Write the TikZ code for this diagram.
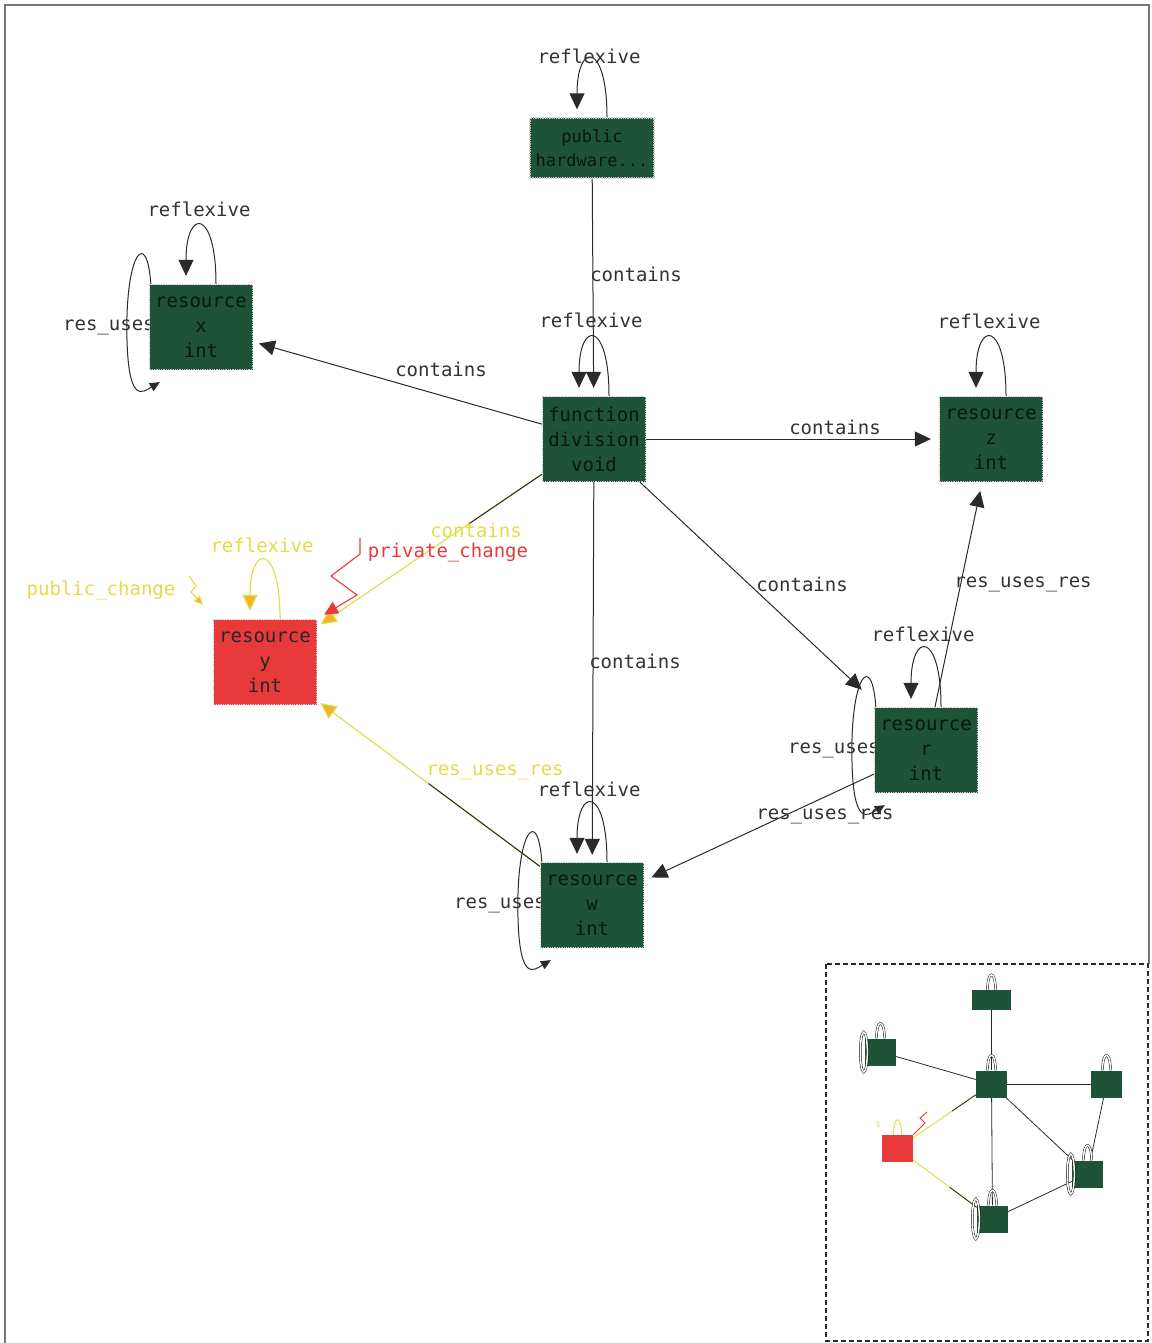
\documentclass[tikz,border=0pt]{standalone}
\usepackage{fontspec}
\usetikzlibrary{arrows.meta,calc,backgrounds}
\newfontfamily\monof{DejaVu Sans Mono}
\definecolor{ngreen}{HTML}{1E5239}
\definecolor{nred}{HTML}{E83A3A}
\definecolor{yelC}{HTML}{E2DC48}
\definecolor{oraC}{HTML}{F0B428}
\definecolor{redC}{HTML}{E83A3A}
\definecolor{edgeC}{HTML}{2A2A2A}
\definecolor{labC}{HTML}{333333}
\definecolor{frameC}{HTML}{777777}
\tikzset{
  gnode/.style={rectangle, fill=ngreen, draw=gray!45, densely dotted, line width=1.3pt,
    minimum width=103pt, minimum height=85pt, inner sep=0pt, align=center,
    text=black!72!ngreen, font={\monof\fontsize{19}{25}\selectfont}},
  bigarr/.style={-{Triangle[length=16pt,width=15pt]}},
  smallarr/.style={-{Triangle[length=10pt,width=9pt]}},
  conn/.style={draw=edgeC, line width=1pt, bigarr},
  yconn/.style={draw=yelC, line width=1.2pt, -{Triangle[length=16pt,width=15pt,fill=oraC]}},
  rconn/.style={draw=redC, line width=1.1pt, -{Triangle[length=14pt,width=13pt,fill=redC]}},
  lbl/.style={font={\monof\fontsize{19}{20}\selectfont}, text=labC, inner sep=0pt},
  ylbl/.style={lbl, text=yelC},
  rlbl/.style={lbl, text=redC},
  mnode/.style={rectangle, fill=ngreen, minimum width=31pt, minimum height=27pt, inner sep=0pt},
  medge/.style={draw=edgeC, line width=0.8pt},
  mloop/.style={draw=black, double=white, line width=0.45pt, double distance=1.5pt},
  framec/.style={draw=frameC, line width=1.5pt}
}
\newcommand\reflexloop[2][conn]{%
  \draw[#1] ([xshift=15pt]#2.north) .. controls ([xshift=15pt,yshift=76pt]#2.north)
    and ([xshift=-15pt,yshift=76pt]#2.north) .. ([xshift=-15pt,yshift=8pt]#2.north);}
\newcommand\resloop[1]{%
  \draw[draw=edgeC, line width=1pt, smallarr] ([xshift=2pt]#1.north west)
    .. controls ([xshift=-2pt,yshift=55pt]#1.north west) and ([xshift=-22pt,yshift=75pt]#1.west)
    .. ([xshift=-22pt]#1.west)
    .. controls ([xshift=-22pt,yshift=-80pt]#1.west) and ([xshift=-6pt,yshift=-22pt]#1.south west)
    .. ([xshift=11pt,yshift=-12pt]#1.south west);}
\newcommand\mtoploop[2][mloop]{%
  \draw[#1] ([xshift=-4pt]#2.north) .. controls ([xshift=-4pt,yshift=20pt]#2.north)
    and ([xshift=4pt,yshift=20pt]#2.north) .. ([xshift=4pt]#2.north);}
\begin{document}
\begin{tikzpicture}[x=1pt,y=-1pt]
\useasboundingbox (0,0) rectangle (1151,1343);
\draw[framec] (5,1343) -- (5,5) -- (1149,5) -- (1149,964);

% main nodes
\node[gnode, minimum width=124pt, minimum height=60pt, font={\monof\fontsize{17}{24}\selectfont}] (T) at (592,148) {public\\hardware...};
\node[gnode] (L) at (201,327) {resource\\x\\int};
\node[gnode] (C) at (594,439) {function\\division\\void};
\node[gnode] (R) at (991,439) {resource\\z\\int};
\node[gnode, fill=nred, text=black!85] (Y) at (265,662) {resource\\y\\int};
\node[gnode] (Q) at (926,750) {resource\\r\\int};
\node[gnode] (B) at (592,905) {resource\\w\\int};

\begin{pgfonlayer}{background}
% connectors
\draw[conn, shorten >=8pt] (T) -- (C);
\draw[conn, shorten >=6pt] (C) -- (L);
\draw[conn, shorten >=8pt] (C) -- (R);
\draw[conn, shorten >=25pt] (C) -- (Q);
\draw[conn, shorten >=7pt] (C) -- (B);
\draw[conn, shorten >=9pt] (Q) -- (R);
\draw[conn, shorten >=8pt] (Q) -- (B);
\draw[yconn, shorten >=4pt] (C) -- (Y);
\draw[draw=edgeC, line width=1pt] (C) -- ($(C)!0.38!(Y)$);
\draw[yconn, shorten >=4pt] (B) -- (Y);
\draw[draw=edgeC, line width=1pt] (B) -- ($(B)!0.5!(Y)$);

% private_change zigzag
\coordinate (pz) at (360,538);
\draw[rconn, shorten >=8pt] (pz) -- ++(0,16) -- ++(-29,22) -- ++(26,19) -- (Y.north east);
% public_change squiggle
\coordinate (ps) at (189,576);
\draw[draw=yelC, line width=1.1pt, -{Triangle[length=9pt,width=8pt,fill=oraC]}] (ps) -- ++(7,10) -- ++(-5,6) -- ++(12,13);

% reflexive loops
\reflexloop{T}
\reflexloop{L}
\reflexloop{C}
\reflexloop{R}
\reflexloop{Q}
\reflexloop{B}
\reflexloop[yconn]{Y}
% res_uses loops
\resloop{L}
\resloop{Q}
\resloop{B}

% labels
\node[lbl] (l1) at (589,56) {reflexive};
\node[lbl] (l2) at (636,274) {contains};
\node[lbl] (l3) at (199,209) {reflexive};
\node[lbl, anchor=east] (l4) at ([xshift=6pt]L.west) {res\_uses};
\node[lbl] (l5) at (591,320) {reflexive};
\node[lbl] (l6) at (441,369) {contains};
\node[lbl] (l7) at (989,321) {reflexive};
\node[lbl] (l8) at (835,427) {contains};
\node[lbl] (l9) at (802,584) {contains};
\node[lbl] (l10) at (1023,584) {res\_uses\_res};
\node[lbl] (l11) at (923,634) {reflexive};
\node[lbl, anchor=east] (l12) at ([xshift=6pt]Q.west) {res\_uses};
\node[lbl] (l13) at (635,661) {contains};
\node[lbl] (l14) at (825,816) {res\_uses\_res};
\node[lbl] (l15) at (589,789) {reflexive};
\node[lbl, anchor=east] (l16) at ([xshift=6pt]B.west) {res\_uses};
\node[ylbl] (l17) at (495,772) {res\_uses\_res};
\node[ylbl] (l18) at (476,530) {contains};
\node[rlbl] (l19) at (448,553) {private\_change};
\node[ylbl] (l20) at (262,545) {reflexive};
\node[ylbl] (l21) at (101,590) {public\_change};
\end{pgfonlayer}

% overview inset
\draw[draw=edgeC, line width=1.4pt, dash pattern=on 5pt off 3pt] (826,964) rectangle (1148,1341);
\node[mnode, minimum width=39pt, minimum height=20pt] (mt) at (991.5,1000) {};
\node[mnode] (ml) at (880.5,1052) {};
\node[mnode] (mc) at (991.5,1084) {};
\node[mnode] (mr) at (1106.5,1084) {};
\node[mnode, fill=nred] (my) at (897.5,1148.5) {};
\node[mnode] (mq) at (1087.5,1174) {};
\node[mnode] (mb) at (992.5,1219) {};
\begin{pgfonlayer}{background}
\draw[medge] (mt) -- (mc);
\draw[medge] (mc) -- (ml);
\draw[medge] (mc) -- (mr);
\draw[medge] (mc) -- (mq);
\draw[medge] (mc) -- (mb);
\draw[medge] (mq) -- (mr);
\draw[medge] (mq) -- (mb);
\draw[draw=yelC, line width=1pt] (mc) -- (my);
\draw[medge] (mc) -- ($(mc)!0.42!(my)$);
\draw[draw=yelC, line width=1pt] (mb) -- (my);
\draw[medge] (mb) -- ($(mb)!0.45!(my)$);
\end{pgfonlayer}
\mtoploop{mt}
\mtoploop{ml}
\mtoploop{mc}
\mtoploop{mr}
\mtoploop{mq}
\mtoploop{mb}
\mtoploop[draw=yelC, line width=1pt]{my}
\draw[mloop] ([xshift=-1pt]ml.west) ellipse (3.5pt and 20pt);
\draw[mloop] ([xshift=-1pt]mq.west) ellipse (3.5pt and 20pt);
\draw[mloop] ([xshift=-1pt]mb.west) ellipse (3.5pt and 20pt);
\coordinate (mz) at (927,1112);
\draw[draw=redC, line width=0.9pt] (mz) -- ++(-7,6) -- ++(5,5) -- ++(-8,8) -- (my.north east);
\coordinate (mp) at (877,1121);
\draw[draw=yelC, line width=0.9pt] (mp) -- ++(2,4) -- ++(-2,2);
\end{tikzpicture}
\end{document}
